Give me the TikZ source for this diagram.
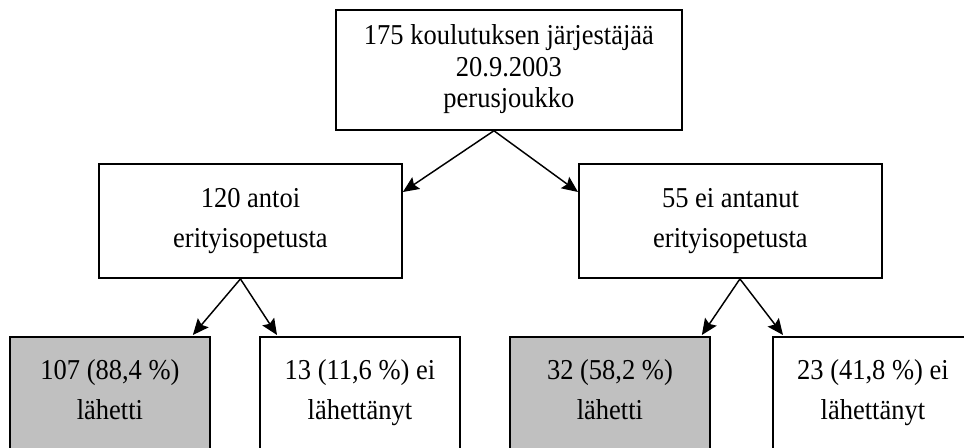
\documentclass[tikz,border=0pt]{standalone}
\usepackage{fontspec}
\setmainfont{Liberation Serif}[FakeStretch=0.92]
\usetikzlibrary{arrows.meta,calc}
\definecolor{boxgray}{RGB}{192,192,192}
\begin{document}
\begin{tikzpicture}[x=0.75pt,y=-0.75pt,
  box/.style={draw=black,line width=1.4pt,inner ysep=0pt,inner xsep=2pt,anchor=north west,align=center},
  topbox/.style={box,minimum width=259.5pt,font=\fontsize{21.6pt}{23.6pt}\selectfont},
  midbox/.style={box,minimum width=227.25pt,font=\fontsize{21.6pt}{29.5pt}\selectfont},
  leafbox/.style={box,minimum width=150pt,font=\fontsize{21.6pt}{30pt}\selectfont},
  grayleaf/.style={leafbox,fill=boxgray},
  arr/.style={line width=1.1pt,-{Stealth[length=12pt,width=10.5pt,inset=2pt]}}]
\useasboundingbox (0,0) rectangle (964,447);
\clip (0,0) rectangle (964,447);
\fill[white] (0,0) rectangle (964,447);
\node[topbox] (top) at (335,9) {\rule{0pt}{26pt}175 koulutuksen järjestäjää\\20.9.2003\\perusjoukko\rule[-16.7pt]{0pt}{0pt}};
\node[midbox] (m1) at (98,163) {\rule{0pt}{32.8pt}120 antoi\\erityisopetusta\rule[-23.25pt]{0pt}{0pt}};
\node[midbox] (m2) at (578,163) {\rule{0pt}{32.8pt}55 ei antanut\\erityisopetusta\rule[-23.25pt]{0pt}{0pt}};
\node[grayleaf] (b1) at (9,336) {\rule{0pt}{32.25pt}107 (88,4 \%)\\lähetti\rule[-30pt]{0pt}{0pt}};
\node[leafbox] (b2) at (259,336) {\rule{0pt}{32.25pt}13 (11,6 \%) ei\\lähettänyt\rule[-30pt]{0pt}{0pt}};
\node[grayleaf] (b3) at (509,336) {\rule{0pt}{32.25pt}32 (58,2 \%)\\lähetti\rule[-30pt]{0pt}{0pt}};
\node[leafbox] (b4) at (772,336) {\rule{0pt}{32.25pt}23 (41,8 \%) ei\\lähettänyt\rule[-30pt]{0pt}{0pt}};
\draw[arr] ($(top.south)+(-15,0)$) -- ($(m1.north east)+(0,29)$);
\draw[arr] ($(top.south)+(-15,0)$) -- ($(m2.north west)+(0,29)$);
\draw[arr] ($(m1.south)+(-10,0)$) -- ($(b1.north east)+(-18,-1)$);
\draw[arr] ($(m1.south)+(-10,0)$) -- ($(b2.north west)+(18,-1)$);
\draw[arr] ($(m2.south)+(9.5,0)$) -- ($(b3.north east)+(-9,-1)$);
\draw[arr] ($(m2.south)+(9.5,0)$) -- ($(b4.north west)+(11,-1)$);
\end{tikzpicture}
\end{document}
